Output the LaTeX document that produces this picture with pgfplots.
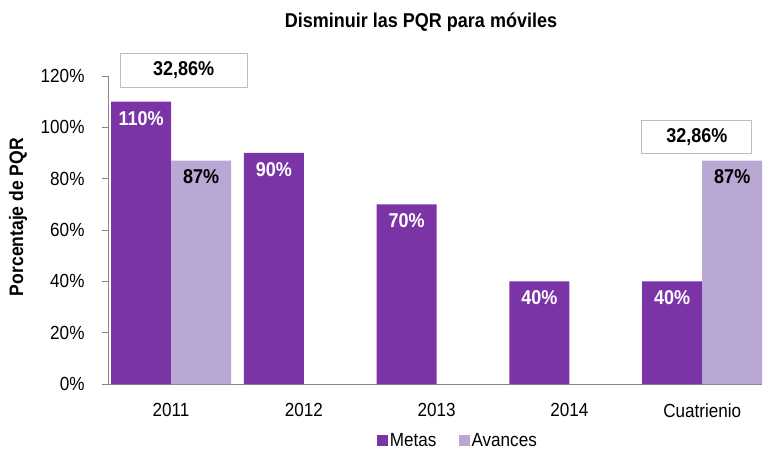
\documentclass[border=0pt]{standalone}
\usepackage{pgfplots}
\pgfplotsset{compat=1.18}
\usepackage{fontspec}
\setmainfont{Liberation Sans}[FakeStretch=0.9]
\definecolor{metas}{RGB}{122,52,166}
\definecolor{avances}{RGB}{185,168,212}
\definecolor{axisgray}{RGB}{134,134,134}
\definecolor{boxgray}{RGB}{190,190,190}
\begin{document}
\begin{tikzpicture}[x=1pt,y=1pt]
\path[use as bounding box] (0,0) rectangle (763,453);
\begin{axis}[
  at={(108pt,69pt)}, anchor=south west,
  scale only axis, width=654pt, height=308pt,
  xmin=-0.475, xmax=4.45, ymin=0, ymax=120,
  ybar=0pt, bar width=60pt,
  axis x line=bottom, axis y line=left,
  axis line style={-, axisgray, line width=0.8pt},
  xtick={0,...,4}, xticklabels={2011,2012,2013,2014,Cuatrienio},
  x tick style={draw=none},
  ytick={0,20,...,120}, yticklabel={\pgfmathprintnumber{\tick}\%},
  y tick style={axisgray, line width=0.8pt},
  tick align=outside, major tick length=6pt,
  /pgf/number format/assume math mode=true,
  ticklabel style={font=\fontsize{19}{22}\selectfont},
  yticklabel style={xshift=-14pt},
  xticklabel style={yshift=-10pt},
  clip=false,
  legend style={at={(0.535,-0.185)}, anchor=center, draw=none,
    legend columns=2, font=\fontsize{19}{22}\selectfont,
    /tikz/every even column/.append style={column sep=20pt}},
  legend image code/.code={\fill[#1] (0pt,-5pt) rectangle (11pt,6pt);},
]
\addplot[fill=metas, draw=none,
  nodes near coords={\pgfmathprintnumber{\pgfplotspointmeta}\%},
  every node near coord/.append style={font=\bfseries\fontsize{20}{22}\selectfont, text=white, anchor=north, yshift=-6pt}]
  coordinates {(0,110) (1,90) (2,70) (3,40) (4,40)};
\addlegendentry{Metas}
\addplot[fill=avances, draw=none,
  nodes near coords={\pgfmathprintnumber{\pgfplotspointmeta}\%},
  every node near coord/.append style={font=\bfseries\fontsize{20}{22}\selectfont, text=black, anchor=north, yshift=-5pt}]
  coordinates {(0,87) (4,87)};
\addlegendentry{Avances}
\node[draw=boxgray, line width=1pt, fill=white, minimum width=127pt, minimum height=34pt,
  font=\bfseries\fontsize{20}{22}\selectfont] at (axis cs:0.094,122.3) {32,86\%};
\node[draw=boxgray, line width=1pt, fill=white, minimum width=110pt, minimum height=33pt,
  font=\bfseries\fontsize{20}{22}\selectfont] at (axis cs:3.96,96.4) {32,86\%};
\end{axis}
\node[font=\bfseries\fontsize{20}{22}\selectfont] at (421,431) {Disminuir las PQR para móviles};
\node[rotate=90, font=\bfseries\fontsize{19.5}{22}\selectfont] at (18,236) {Porcentaje de PQR};
\end{tikzpicture}
\end{document}
